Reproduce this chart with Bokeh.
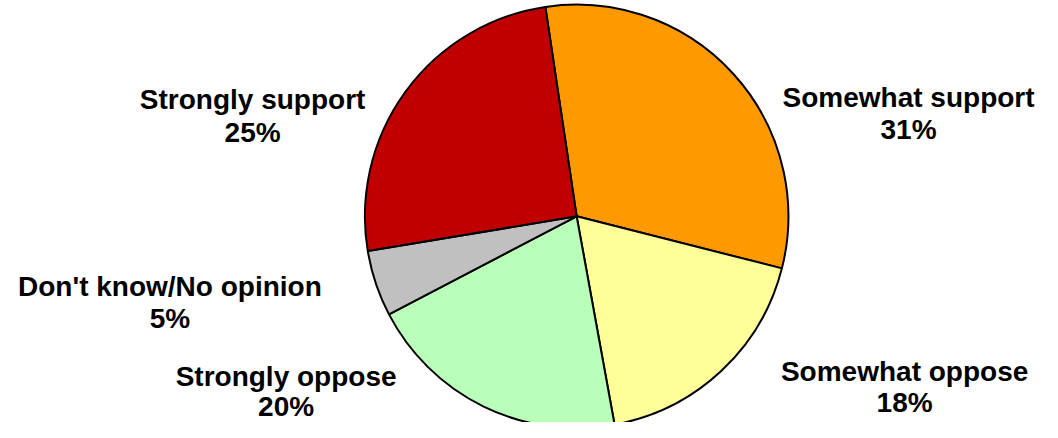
import numpy as np
from bokeh.plotting import figure
from bokeh.models import ColumnDataSource, Range1d
from bokeh.core.properties import value
from bokeh.embed import file_html
from bokeh.resources import INLINE

# ---- data ----
categories = ["Somewhat support", "Somewhat oppose", "Strongly oppose",
              "Don't know/No opinion", "Strongly support"]
percents = [31, 18, 20, 5, 25]
colors = ["#FF9900", "#FFFF99", "#B9FFB9", "#C0C0C0", "#C00000"]

# ---- layout (reference-picture pixel coordinates, 1058 x 438) ----
W, H = 1042, 422
REF_W, REF_H = 1058, 438
center_ref = (585, 224)
radius = 215
start_deg_from_top = -8.5  # clockwise from 12 o'clock
# label: centre x, baseline of first line, baseline of second line
label_pos = [(922, 101, 134), (918, 385, 417), (290, 390, 421),
             (172, 297, 330), (256, 103, 137)]

def py(y):
    return REF_H - y

vals = np.array(percents, dtype=float)
frac = vals / vals.sum()
cum = np.concatenate([[0.0], np.cumsum(frac)])
start_math = np.deg2rad(90 - start_deg_from_top)
starts = start_math - cum[:-1] * 2 * np.pi
ends = start_math - cum[1:] * 2 * np.pi

cx, cy = center_ref[0], py(center_ref[1])
src = ColumnDataSource(dict(
    x=[cx] * len(vals), y=[cy] * len(vals),
    start=list(starts), end=list(ends), color=colors, cat=categories))

p = figure(width=W, height=H, output_backend="svg", toolbar_location=None,
           x_range=Range1d(0, REF_W), y_range=Range1d(0, REF_H),
           min_border=0, min_border_left=0, min_border_right=0,
           min_border_top=0, min_border_bottom=0)
p.axis.visible = False
p.grid.visible = False
p.outline_line_color = None
p.background_fill_color = "white"
p.border_fill_color = "white"

p.wedge(x="x", y="y", radius=radius, start_angle="start", end_angle="end",
        direction="clock", fill_color="color", line_color="black",
        line_width=2, source=src)

lab = ColumnDataSource(dict(
    x=[a for a, b, c in label_pos],
    y1=[py(b) for a, b, c in label_pos],
    y2=[py(c) for a, b, c in label_pos],
    t1=categories,
    t2=[f"{v}%" for v in percents]))

for ycol, tcol in (("y1", "t1"), ("y2", "t2")):
    p.text(x="x", y=ycol, text=tcol, source=lab,
           text_font=value("Liberation Sans"), text_font_style="bold",
           text_font_size="28px", text_color="black",
           text_align="center", text_baseline="alphabetic",
           text_line_height=1.0)

open("out.html", "w").write(file_html(p, INLINE))
